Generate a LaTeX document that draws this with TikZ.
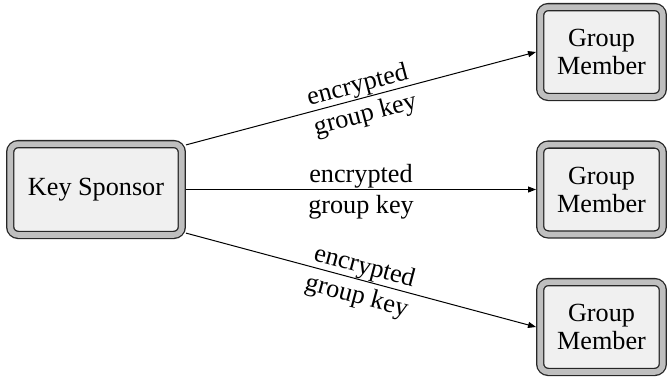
\documentclass[tikz,border=0pt]{standalone}
\usepackage{fontspec}
\setmainfont{Liberation Serif}
\usetikzlibrary{arrows.meta,calc}
\begin{document}
\begin{tikzpicture}[x=0.5pt,y=-0.5pt,
  every node/.style={font=\rmfamily\fontsize{13.1pt}{14pt}\selectfont},
  framebox/.style={draw=black!85, line width=0.65pt, double=black!25,
    double distance=2.85pt, fill=black!6, rounded corners=4pt,
    inner sep=0pt, outer sep=2.1pt, align=center},
  sponsorbox/.style={framebox, minimum width=85.8pt, minimum height=45.4pt},
  memberbox/.style={framebox, minimum width=61.3pt, minimum height=44.9pt},
  link/.style={line width=0.5pt, -{Triangle[length=4pt,width=3pt]}},
  upper/.style={midway, sloped, above, inner sep=0.2pt},
  lower/.style={midway, sloped, below, inner sep=2.6pt}]
\useasboundingbox (0,0) rectangle (668,381);

\node[sponsorbox] (ks) at (96,189.5) {Key Sponsor};
\node[memberbox] (gm1) at (601.5,52) {Group\\Member};
\node[memberbox] (gm2) at (601.5,189.5) {Group\\Member};
\node[memberbox] (gm3) at (601.5,327) {Group\\Member};

\draw[link] ($(ks.north east)+(0,5)$) -- (gm1.west)
  node[upper] {encrypted} node[lower] {group key};
\draw[link] (ks.east) -- (gm2.west)
  node[upper] {encrypted} node[lower] {group key};
\draw[link] ($(ks.south east)+(0,-6)$) -- (gm3.west)
  node[upper] {encrypted} node[lower] {group key};
\end{tikzpicture}
\end{document}
